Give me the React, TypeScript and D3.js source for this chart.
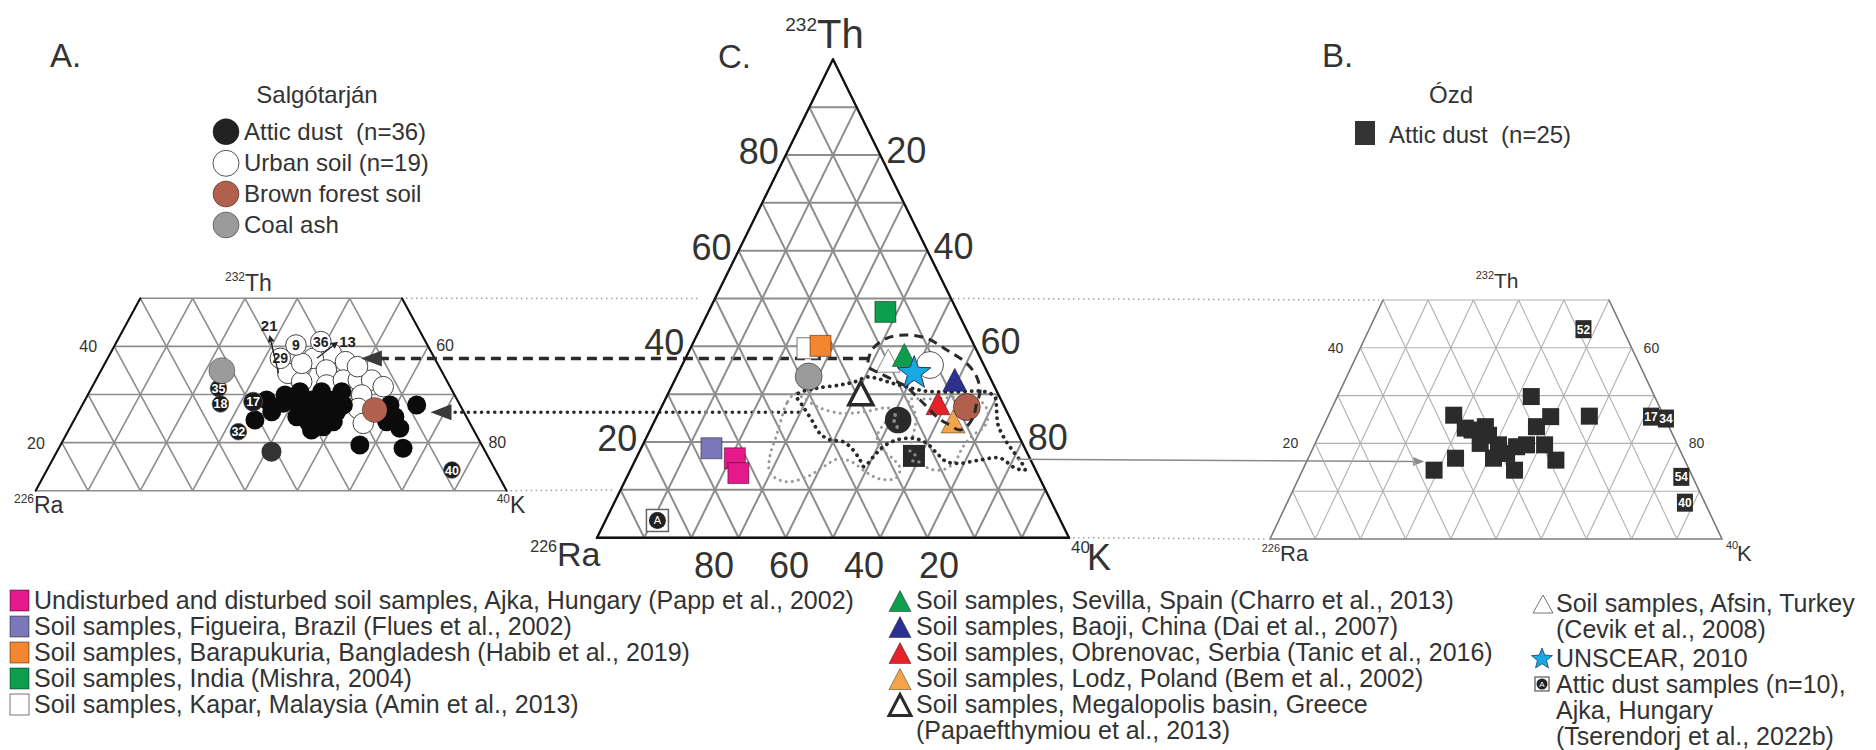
import React from "react";
import * as d3 from "d3";

// A composition is [Th %, K %]; Ra % = 100 − Th − K.
type Comp = [number, number];

// ---------- Panel A: Salgótarján (Th 10–50 % window) ----------
const salgoAtticDust: Comp[] = [
  [28.86, 34.7], [26.43, 36.9], [24.7, 34.55], [29.9, 37.7], [27.13, 41.9], [28.86, 43.3],
  [28.16, 46.2], [26.1, 46.25], [28.86, 47.5], [27.82, 49.9], [24.35, 44.9], [22.62, 46.4],
  [24.35, 49.7], [27.82, 58.8], [25.39, 60.95], [22.97, 63.1], [24.35, 59.9], [27.82, 63.9],
  [19.5, 57.2], [18.81, 65.8], [30.59, 40.2], [30.59, 44.35], [30.59, 48.2], [25.39, 42.2],
  [26.43, 49.3], [27.13, 44.8], [28.16, 38.2], [26.78, 57.4], [23.3, 48.3], [28.86, 39.2],
];
const salgoAtticDustTagged: Comp[] = [[31.28, 24.3], [28.03, 26.3], [28.51, 32.3], [22.27, 32.6], [14.3, 77.4]];
const salgoAtticDustTags = ["35", "18", "17", "32", "40"];
const salgoAtticDustCentre: Comp = [18.12, 41.0];
const salgoUrbanSoil: Comp[] = [
  [38.56, 42.2], [36.83, 45.8], [37.52, 39.3], [35.1, 43.0], [34.4, 36.0], [32.67, 39.5],
  [31.98, 44.6], [33.0, 47.3], [33.0, 50.15], [33.0, 52.7], [31.63, 55.6], [29.9, 52.35],
  [27.1, 53.1], [24.0, 55.6], [36.48, 37.6], [35.79, 48.6],
];
const salgoUrbanSoilTagged: Comp[] = [[37.52, 33.0], [40.29, 34.6], [40.99, 39.0]];
const salgoUrbanSoilTags = ["29", "9", "36"];
const brownForestSoil: Comp = [26.78, 56.4];
const coalAsh: Comp = [34.96, 23.1];
const pointerTags = ["21", "13"];
const pointerTagAt: Comp[] = [[44.45, 27.4], [41.2, 44.0]];
const pointerFrom: Comp[] = [[34.4, 34.2], [37.52, 40.0]];
const pointerTo: Comp[] = [[42.37, 28.5], [40.99, 42.3]];

// ---------- Panel B: Ózd (Th 0–50 % window) ----------
const ozdAtticDust: Comp[] = [
  [29.8, 42.9], [25.9, 27.7], [25.7, 57.8], [22.8, 33.3], [23.5, 35.9], [25.6, 49.3],
  [23.5, 47.2], [20.0, 36.5], [19.7, 40.7], [19.3, 44.9], [19.7, 50.9], [16.9, 41.0],
  [16.9, 32.6], [16.5, 55.0], [14.4, 46.9], [14.4, 29.1], [17.9, 43.4], [21.7, 37.5],
  [23.2, 31.6], [19.7, 46.9],
];
const ozdAtticDustTagged: Comp[] = [[43.9, 47.4], [25.6, 71.5], [25.2, 75.0], [13.0, 84.5], [7.6, 88.0]];
const ozdAtticDustTags = ["52", "17", "34", "54", "40"];

// ---------- Panel C: comparison with published soils ----------
const ajkaSoil: Comp[] = [[16.6, 20.9], [13.5, 23.2]];
const figueiraSoil: Comp = [18.7, 14.9];
const barapukuriaSoil: Comp = [40.1, 27.3];
const indiaSoil: Comp = [47.2, 37.5];
const kaparSoil: Comp = [39.6, 24.8];
const sevillaSoil: Comp = [38.2, 46.0];
const baojiSoil: Comp = [33.0, 59.3];
const obrenovacSoil: Comp = [28.1, 58.2];
const lodzSoil: Comp = [24.3, 63.3];
const megalopolisSoil: Comp = [30.2, 40.8];
const afsinSoil: Comp = [37.0, 43.2];
const unscear: Comp = [34.4, 50.0];
const ajkaAtticDust: Comp = [3.6, 11.0];
const salgoUrbanMean: Comp = [36.1, 52.5];
const salgoDustMean: Comp = [24.6, 51.5];
const ozdDustMean: Comp = [17.1, 58.6];
const brownForestSoilC: Comp = [27.3, 64.7];
const coalAshC: Comp = [33.7, 28.0];

// Salgótarján urban soil field (dashed outline)
const urbanSoilField: Comp[] = [
  [37.15, 38.9], [39.59, 38.7], [41.68, 40.5], [42.37, 44.4], [41.68, 49.0], [39.24, 54.5],
  [36.45, 60.1], [33.65, 63.6], [30.52, 65.9], [28.09, 66.4], [25.29, 67.1], [23.2, 66.7],
  [22.51, 65.7], [23.91, 62.1], [25.29, 59.3], [27.38, 56.2], [29.47, 53.0], [31.56, 49.8],
  [32.61, 47.2], [34.36, 42.8], [35.74, 39.6],
];
// Salgótarján attic dust field (black dotted outline)
const atticDustField: Comp[] = [
  [29.83, 27.4], [31.23, 30.9], [31.92, 35.5], [32.61, 38.4], [33.59, 40.6], [32.13, 47.1],
  [30.66, 54.2], [30.46, 60.6], [30.52, 66.9], [29.41, 69.6], [26.69, 71.3], [23.56, 73.2],
  [20.42, 76.3], [17.7, 79.6], [15.61, 82.2], [14.15, 83.6], [14.57, 81.3], [16.66, 77.0],
  [16.24, 73.0], [15.55, 69.1], [15.89, 66.1], [17.64, 63.2], [19.73, 60.0], [20.78, 56.6],
  [20.42, 53.3], [19.02, 51.1], [16.93, 50.1], [14.84, 49.1], [16.24, 47.6], [18.33, 45.1],
  [20.07, 42.1], [20.42, 39.2], [21.82, 36.3], [24.6, 33.2], [27.38, 30.0],
];
// Ózd attic dust fields (grey dotted outlines)
const ozdFieldWest: Comp[] = [
  [30.18, 26.97], [28.09, 26.15], [24.6, 26.7], [21.05, 27.4], [17.08, 28.1], [13.52, 29.9],
  [11.71, 34.1], [12.69, 38.1], [14.78, 40.5], [16.45, 42.8], [15.82, 46.1], [13.73, 50.1],
  [12.27, 53.8], [12.48, 57.1], [14.57, 56.9], [16.66, 54.2], [18.69, 50.7], [21.05, 48.8],
  [23.91, 48.95], [26.0, 50.4], [27.11, 48.2], [26.34, 43.55], [26.0, 38.7], [27.38, 32.96],
  [29.47, 28.6],
];
const ozdFieldEast: Comp[] = [
  [28.78, 51.5], [28.99, 57.1], [29.41, 62.2], [28.57, 66.9], [26.27, 69.7], [23.35, 70.5],
  [21.26, 68.8], [18.75, 68.0], [15.82, 67.9], [14.15, 66.0], [14.57, 62.8], [16.87, 59.6],
  [19.38, 57.0], [22.1, 56.1], [25.02, 55.1], [27.53, 53.0],
];

// Links between the panels (end points in each panel's own composition space)
const urbanLinkFrom: Comp = [37.5, 48.4];
const dustLinkFrom: Comp = [26.3, 67.3];
const dustLinkTo: Comp = [26.0, 30.3];
const ozdLinkFrom: Comp = [16.4, 80.8];
const ozdLinkTo: Comp = [16.2, 26.0];

// Axis tick values
const cLeftTicks = [80, 60, 40, 20];
const cRightTicks = [20, 40, 60, 80];
const cBottomTicks = [80, 60, 40, 20];
const sideLeftTicks = [40, 20];
const sideRightTicks = [60, 80];

// Legend texts
const salgoLegend = ["Attic dust  (n=36)", "Urban soil (n=19)", "Brown forest soil", "Coal ash"];
const squareLegend = [
  "Undisturbed and disturbed soil samples, Ajka, Hungary (Papp et al., 2002)",
  "Soil samples, Figueira, Brazil (Flues et al., 2002)",
  "Soil samples, Barapukuria, Bangladesh (Habib et al., 2019)",
  "Soil samples, India (Mishra, 2004)",
  "Soil samples, Kapar, Malaysia (Amin et al., 2013)",
];
const triangleLegend = [
  "Soil samples, Sevilla, Spain (Charro et al., 2013)",
  "Soil samples, Baoji, China (Dai et al., 2007)",
  "Soil samples, Obrenovac, Serbia (Tanic et al., 2016)",
  "Soil samples, Lodz, Poland (Bem et al., 2002)",
  "Soil samples, Megalopolis basin, Greece",
  "(Papaefthymiou et al., 2013)",
];
const otherLegend = [
  "Soil samples, Afsin, Turkey",
  "(Cevik et al., 2008)",
  "UNSCEAR, 2010",
  "Attic dust samples (n=10),",
  "Ajka, Hungary",
  "(Tserendorj et al., 2022b)",
];

const FONT = "'Liberation Sans', Arial, Helvetica, sans-serif";
const INK = "#333";
const PINK = "#e6198b", PURPLE = "#7a78b8", ORANGE = "#f4862f", GREEN = "#0c9d4d";
const NAVY = "#2c3190", RED = "#e52229", LIGHT_ORANGE = "#f6a44c", BROWN = "#b0604d";
const ASH = "#9b9b9b", SKY = "#19a9e2";

type Frame = { p: (c: Comp) => [number, number] };

function makeFrame(xRa: number, xK: number, yBase: number, yTop: number, thTop: number): Frame {
  const sx = d3.scaleLinear().domain([0, 100]).range([xRa, xK]);
  const sy = d3.scaleLinear().domain([0, thTop]).range([yBase, yTop]);
  return { p: (c: Comp) => [sx(c[1] + c[0] / 2), sy(c[0])] };
}

const frameA = makeFrame(9.5, 532.8, 538.8, 298.3, 50);
const frameC = makeFrame(597, 1069, 537.7, 59.3, 100);
const frameB = makeFrame(1270, 1722, 539, 300, 50);
// Ra tick labels under the base of panel C
const cBottomLabelX = d3.scaleLinear().domain([80, 20]).range([714, 939]);

function gridSegments(thMin: number, thMax: number): [Comp, Comp][] {
  const segs: [Comp, Comp][] = [];
  for (let t = thMin; t <= thMax; t += 10) segs.push([[t, 0], [t, 100 - t]]);
  for (let c = 0; c < 100 - thMin; c += 10) {
    const top = Math.min(thMax, 100 - c);
    segs.push([[thMin, c], [top, c]]);
    segs.push([[thMin, 100 - c - thMin], [top, 100 - c - top]]);
  }
  return segs;
}

function Grid({ f, thMin, thMax, stroke, sw }: { f: Frame; thMin: number; thMax: number; stroke: string; sw: number }) {
  return (
    <g stroke={stroke} strokeWidth={sw}>
      {gridSegments(thMin, thMax).map((s, i) => {
        const a = f.p(s[0]), b = f.p(s[1]);
        return <line key={i} x1={a[0]} y1={a[1]} x2={b[0]} y2={b[1]} />;
      })}
    </g>
  );
}

function Seg({ f, a, b, stroke, sw }: { f: Frame; a: Comp; b: Comp; stroke: string; sw: number }) {
  const p = f.p(a), q = f.p(b);
  return <line x1={p[0]} y1={p[1]} x2={q[0]} y2={q[1]} stroke={stroke} strokeWidth={sw} strokeLinecap="round" />;
}

const triPath = (x: number, y: number, w: number, h: number) =>
  `M${x},${y - h / 2}L${x + w / 2},${y + h / 2}L${x - w / 2},${y + h / 2}Z`;

function starPath(x: number, y: number, R: number, r: number) {
  const pts = d3.range(10).map((i) => {
    const a = -Math.PI / 2 + (i * Math.PI) / 5;
    const rad = i % 2 ? r : R;
    return [x + rad * Math.cos(a), y + rad * Math.sin(a)];
  });
  return "M" + pts.map((p) => p.join(",")).join("L") + "Z";
}

function Sup({ x, y, sup, main, big, small }: { x: number; y: number; sup: string; main: string; big: number; small: number }) {
  // mass number as a superscript in front of the element symbol, split at x
  return (
    <g fill={INK} fontFamily={FONT}>
      <text x={x} y={y - big * 0.42} fontSize={small} textAnchor="end">{sup}</text>
      <text x={x} y={y} fontSize={big}>{main}</text>
    </g>
  );
}

const closedPath = (f: Frame, pts: Comp[]) =>
  d3.line<Comp>().x((d) => f.p(d)[0]).y((d) => f.p(d)[1]).curve(d3.curveCatmullRomClosed.alpha(0.5))(pts) || "";

export default function App() {
  const A = frameA, B = frameB, C = frameC;
  const sq = (c: Comp, s: number, fill: string, stroke = "rgba(0,0,0,0.45)") => {
    const [x, y] = C.p(c);
    return <rect x={x - s / 2} y={y - s / 2} width={s} height={s} fill={fill} stroke={stroke} strokeWidth={1} />;
  };
  const tri = (c: Comp, fill: string, stroke = "rgba(0,0,0,0.4)", sw = 1) => {
    const [x, y] = C.p(c);
    return <path d={triPath(x, y, 24, 23)} fill={fill} stroke={stroke} strokeWidth={sw} />;
  };
  const circ = (c: Comp, r: number, fill: string, stroke = "rgba(0,0,0,0.45)") => {
    const [x, y] = C.p(c);
    return <circle cx={x} cy={y} r={r} fill={fill} stroke={stroke} strokeWidth={1} />;
  };

  const urbTip = A.p(urbanLinkFrom);
  const urbEnd = C.p(urbanSoilField[0]);
  const dustTip = A.p(dustLinkFrom);
  const dustEnd = C.p(dustLinkTo);
  const ozdStart = C.p(ozdLinkFrom);
  const ozdEnd = B.p(ozdLinkTo);

  const aTopRight = A.p([50, 50]), cLeft50 = C.p([50, 0]);
  const aBaseRight = A.p([10, 90]), cLeft10 = C.p([10, 0]);
  const cRight50 = C.p([50, 50]), bTopLeft = B.p([50, 0]);
  const cK = C.p([0, 100]), bRa = B.p([0, 0]);

  const legendRowsLeft = [609, 635, 661, 687, 713];
  const legendRowsMid = [609, 635, 661, 687, 713, 739];
  const legendRowsRight = [612, 638, 667, 693, 719, 745];
  const salgoRows = [131.7, 163.3, 194, 225];

  const [dmx, dmy] = C.p(salgoDustMean);
  const [omx, omy] = C.p(ozdDustMean);
  const [amx, amy] = C.p(ajkaAtticDust);
  const [smx, smy] = C.p(unscear);

  return (
    <svg width={1876} height={750} style={{ position: "absolute", left: 0, top: 0, background: "#fff" }} fontFamily={FONT}>
      <rect width={1876} height={750} fill="#fff" />

      {/* panel titles */}
      <g fill={INK} fontSize={33}>
        <text x={50} y={67}>A.</text>
        <text x={718} y={68}>C.</text>
        <text x={1322} y={67}>B.</text>
      </g>

      {/* links between panels */}
      <g stroke="#a0a0a0" strokeWidth={1.5} strokeDasharray="1.5 3.5" fill="none">
        <line x1={aTopRight[0] + 4} y1={aTopRight[1]} x2={cLeft50[0] - 14} y2={cLeft50[1]} />
        <line x1={aBaseRight[0] + 4} y1={aBaseRight[1]} x2={cLeft10[0] - 6} y2={cLeft10[1]} />
        <line x1={cRight50[0] + 2} y1={cRight50[1]} x2={bTopLeft[0] - 4} y2={bTopLeft[1]} />
        <line x1={cK[0] + 4} y1={cK[1]} x2={bRa[0] - 4} y2={bRa[1]} />
      </g>

      {/* ---------- Panel A ---------- */}
      <text x={317} y={103} textAnchor="middle" fontSize={24} fill={INK}>Salgótarján</text>
      {salgoLegend.map((t, i) => (
        <g key={t}>
          <circle cx={226} cy={salgoRows[i]} r={13}
            fill={i === 0 ? "#222" : i === 1 ? "#fff" : i === 2 ? BROWN : ASH}
            stroke={i === 1 ? "#555" : "rgba(0,0,0,0.4)"} strokeWidth={1} />
          <text x={244} y={salgoRows[i] + 8} fontSize={24} fill={INK} style={{ whiteSpace: "pre" }}>{t}</text>
        </g>
      ))}
      <Grid f={A} thMin={10} thMax={50} stroke="#8d8d8d" sw={1.6} />
      <Seg f={A} a={[10, 0]} b={[50, 0]} stroke="#111" sw={2} />
      <Seg f={A} a={[10, 90]} b={[50, 50]} stroke="#111" sw={2} />
      <Sup x={245} y={291} sup="232" main="Th" big={23} small={12} />
      <Sup x={34} y={513} sup="226" main="Ra" big={23} small={12} />
      <Sup x={510} y={513} sup="40" main="K" big={23} small={12} />
      <g fontSize={16} fill={INK}>
        {sideLeftTicks.map((t) => { const [x, y] = A.p([t, 0]); return <text key={t} x={x - 17} y={y + 6} textAnchor="end">{t}</text>; })}
        {sideRightTicks.map((k) => { const [x, y] = A.p([100 - k, k]); return <text key={k} x={x + 8} y={y + 5}>{k}</text>; })}
      </g>
      {salgoUrbanSoil.map((c, i) => { const [x, y] = A.p(c); return <circle key={i} cx={x} cy={y} r={10.3} fill="#fff" stroke="#444" strokeWidth={1} />; })}
      {salgoAtticDust.map((c, i) => { const [x, y] = A.p(c); return <circle key={i} cx={x} cy={y} r={9.5} fill="#0b0b0b" />; })}
      {(() => { const [x, y] = A.p(salgoAtticDustCentre); return <circle cx={x} cy={y} r={10} fill="#333" />; })()}
      {salgoUrbanSoilTagged.map((c, i) => {
        const [x, y] = A.p(c);
        return (
          <g key={i}>
            <circle cx={x} cy={y} r={10.3} fill="#fff" stroke="#444" strokeWidth={1} />
            <text x={x} y={y + 5} textAnchor="middle" fontSize={14} fontWeight="bold" fill="#222">{salgoUrbanSoilTags[i]}</text>
          </g>
        );
      })}
      {salgoAtticDustTagged.map((c, i) => {
        const [x, y] = A.p(c);
        const r = salgoAtticDustTags[i] === "17" ? 9.5 : 8.3;
        return (
          <g key={i}>
            <circle cx={x} cy={y} r={r} fill="#1a1a1a" stroke="#555" strokeWidth={0.8} />
            <text x={x} y={y + 4.5} textAnchor="middle" fontSize={12.5} fontWeight="bold" fill="#fff">{salgoAtticDustTags[i]}</text>
          </g>
        );
      })}
      {(() => { const [x, y] = A.p(brownForestSoil); return <circle cx={x} cy={y} r={12.5} fill={BROWN} stroke="rgba(0,0,0,0.35)" />; })()}
      {(() => { const [x, y] = A.p(coalAsh); return <circle cx={x} cy={y} r={13} fill={ASH} stroke="rgba(0,0,0,0.35)" />; })()}
      {pointerTags.map((t, i) => {
        const [fx, fy] = A.p(pointerFrom[i]);
        const [tx, ty] = A.p(pointerTo[i]);
        const [lx, ly] = A.p(pointerTagAt[i]);
        const ang = Math.atan2(ty - fy, tx - fx);
        const hl = 7, hw = 3.5;
        const bx = tx - hl * Math.cos(ang), by = ty - hl * Math.sin(ang);
        const head = `M${tx},${ty}L${bx + hw * Math.sin(ang)},${by - hw * Math.cos(ang)}L${bx - hw * Math.sin(ang)},${by + hw * Math.cos(ang)}Z`;
        return (
          <g key={t}>
            <line x1={fx} y1={fy} x2={bx} y2={by} stroke="#222" strokeWidth={1.3} />
            <path d={head} fill="#222" />
            <text x={lx} y={ly + 6} textAnchor="middle" fontSize={15} fontWeight="bold" fill="#222">{t}</text>
          </g>
        );
      })}

      {/* arrows from panel A into C */}
      <line x1={urbTip[0] + 18} y1={urbTip[1]} x2={urbEnd[0]} y2={urbTip[1]} stroke="#2a2a2a" strokeWidth={3.5} strokeDasharray="10 6" />
      <path d={`M${urbTip[0]},${urbTip[1]}L${urbTip[0] + 21},${urbTip[1] - 8}L${urbTip[0] + 21},${urbTip[1] + 8}Z`} fill="#3a3a3a" />
      <line x1={dustTip[0] + 18} y1={dustTip[1]} x2={dustEnd[0]} y2={dustTip[1]} stroke="#2a2a2a" strokeWidth={3.5} strokeDasharray="0.1 6.5" strokeLinecap="round" />
      <path d={`M${dustTip[0]},${dustTip[1]}L${dustTip[0] + 21},${dustTip[1] - 8}L${dustTip[0] + 21},${dustTip[1] + 8}Z`} fill="#3a3a3a" />

      {/* ---------- Panel C ---------- */}
      <Grid f={C} thMin={0} thMax={100} stroke="#8d8d8d" sw={2} />
      <Seg f={C} a={[0, 0]} b={[100, 0]} stroke="#111" sw={2.2} />
      <Seg f={C} a={[0, 100]} b={[100, 0]} stroke="#111" sw={2.2} />
      <Seg f={C} a={[0, 0]} b={[0, 100]} stroke="#111" sw={2.6} />
      <Sup x={817} y={48} sup="232" main="Th" big={40} small={19} />
      <Sup x={557} y={566} sup="226" main="Ra" big={34} small={16} />
      <g fill={INK} fontFamily={FONT}>
        <text x={1071} y={553} fontSize={17}>40</text>
        <text x={1087} y={570} fontSize={36}>K</text>
      </g>
      <g fontSize={36} fill={INK}>
        {cLeftTicks.map((t) => { const [x, y] = C.p([t, 0]); return <text key={t} x={x - 7} y={y + 9} textAnchor="end">{t}</text>; })}
        {cRightTicks.map((k) => { const [x, y] = C.p([100 - k, k]); return <text key={k} x={x + 6} y={y + 8}>{k}</text>; })}
        {cBottomTicks.map((r) => { const y = C.p([0, 100 - r])[1]; return <text key={r} x={cBottomLabelX(r)} y={y + 40} textAnchor="middle">{r}</text>; })}
      </g>

      {/* composition fields */}
      <g fill="none" strokeLinecap="round">
        <path d={closedPath(C, ozdFieldWest)} stroke="#9a9a9a" strokeWidth={3} strokeDasharray="0.1 6" />
        <path d={closedPath(C, ozdFieldEast)} stroke="#9a9a9a" strokeWidth={3} strokeDasharray="0.1 6" />
        <path d={closedPath(C, atticDustField)} stroke="#2a2a2a" strokeWidth={3.8} strokeDasharray="0.1 6.5" />
      </g>

      {/* published soil data */}
      {ajkaSoil.map((c, i) => <g key={i}>{sq(c, 21, PINK)}</g>)}
      {sq(figueiraSoil, 21, PURPLE)}
      {sq(kaparSoil, 21, "#fff", "#777")}
      {sq(barapukuriaSoil, 21, ORANGE)}
      {sq(indiaSoil, 21, GREEN)}
      {circ(coalAshC, 13.5, ASH)}
      {tri(megalopolisSoil, "#fff", "#2a2a2a", 3.5)}
      {tri(afsinSoil, "#fff", "#888", 1)}
      {tri(sevillaSoil, GREEN)}
      {circ(salgoUrbanMean, 13.5, "#fff", "#555")}
      <path d={starPath(smx, smy, 17.5, 7.2)} fill={SKY} stroke="#1d3b66" strokeWidth={1} />
      {tri(baojiSoil, NAVY)}
      {tri(obrenovacSoil, RED)}
      {circ(brownForestSoilC, 13.5, BROWN)}
      {tri(lodzSoil, LIGHT_ORANGE)}
      <circle cx={dmx} cy={dmy} r={13.3} fill="#2a2a2a" />
      <g fill="#8a8a8a">
        <circle cx={dmx - 3} cy={dmy - 5} r={1.9} />
        <circle cx={dmx - 4} cy={dmy + 1} r={1.9} />
        <circle cx={dmx - 1} cy={dmy + 7} r={1.9} />
      </g>
      <rect x={omx - 11} y={omy - 11} width={22} height={22} fill="#2a2a2a" />
      <g fill="#8a8a8a">
        <circle cx={omx - 4} cy={omy - 5} r={1.7} />
        <circle cx={omx + 1} cy={omy - 1} r={1.7} />
        <circle cx={omx - 1} cy={omy + 5} r={1.7} />
        <circle cx={omx + 5} cy={omy + 6} r={1.7} />
      </g>
      <rect x={amx - 11} y={amy - 11} width={22} height={22} fill="#fff" stroke="#666" strokeWidth={1.5} />
      <circle cx={amx} cy={amy} r={8.5} fill="#222" />
      <text x={amx} y={amy + 4} textAnchor="middle" fontSize={11} fill="#fff">A</text>

      <path d={closedPath(C, urbanSoilField)} fill="none" stroke="#2a2a2a" strokeWidth={3} strokeDasharray="9 6" />

      {/* arrow from panel C to panel B */}
      <line x1={ozdStart[0]} y1={ozdStart[1]} x2={ozdEnd[0] - 9} y2={ozdEnd[1]} stroke="#8a8a8a" strokeWidth={1.5} />
      <path d={`M${ozdEnd[0]},${ozdEnd[1]}L${ozdEnd[0] - 11},${ozdEnd[1] - 4.5}L${ozdEnd[0] - 11},${ozdEnd[1] + 4.5}Z`} fill="#8a8a8a" />

      {/* ---------- Panel B ---------- */}
      <text x={1451} y={103} textAnchor="middle" fontSize={24} fill={INK}>Ózd</text>
      <rect x={1355} y={121} width={20} height={24} fill="#333" />
      <text x={1389} y={143} fontSize={24} fill={INK} style={{ whiteSpace: "pre" }}>Attic dust  (n=25)</text>
      <Grid f={B} thMin={0} thMax={50} stroke="#b0b0b0" sw={1.1} />
      <Seg f={B} a={[0, 0]} b={[50, 0]} stroke="#7a7a7a" sw={1.5} />
      <Seg f={B} a={[0, 100]} b={[50, 50]} stroke="#7a7a7a" sw={1.5} />
      <Seg f={B} a={[0, 0]} b={[0, 100]} stroke="#8a8a8a" sw={1.3} />
      <Sup x={1494} y={288} sup="232" main="Th" big={21} small={11} />
      <Sup x={1280} y={561} sup="226" main="Ra" big={22} small={11} />
      <g fill={INK}>
        <text x={1726} y={549} fontSize={11}>40</text>
        <text x={1737} y={561} fontSize={22}>K</text>
      </g>
      <g fontSize={14} fill={INK}>
        {sideLeftTicks.map((t) => { const [x, y] = B.p([t, 0]); return <text key={t} x={x - 17} y={y + 5} textAnchor="end">{t}</text>; })}
        {sideRightTicks.map((k) => { const [x, y] = B.p([100 - k, k]); return <text key={k} x={x + 12} y={y + 5}>{k}</text>; })}
      </g>
      {ozdAtticDust.map((c, i) => { const [x, y] = B.p(c); return <rect key={i} x={x - 8.5} y={y - 8.5} width={17} height={17} fill="#2b2b2b" />; })}
      {ozdAtticDustTagged.map((c, i) => {
        const [x, y] = B.p(c);
        return (
          <g key={i}>
            <rect x={x - 8} y={y - 9} width={16} height={18} fill="#2b2b2b" />
            <text x={x} y={y + 4.5} textAnchor="middle" fontSize={12} fontWeight="bold" fill="#fff">{ozdAtticDustTags[i]}</text>
          </g>
        );
      })}

      {/* ---------- Legends ---------- */}
      <g fontSize={25} fill={INK}>
        {squareLegend.map((t, i) => (
          <g key={t}>
            <rect x={10} y={legendRowsLeft[i] - 19} width={19} height={21}
              fill={[PINK, PURPLE, ORANGE, GREEN, "#fff"][i]} stroke={i === 4 ? "#777" : "rgba(0,0,0,0.45)"} strokeWidth={1} />
            <text x={34} y={legendRowsLeft[i]}>{t}</text>
          </g>
        ))}
        {triangleLegend.map((t, i) => (
          <g key={t}>
            {i < 5 && (
              <path d={triPath(900, legendRowsMid[i] - 8, 22, 21)}
                fill={[GREEN, NAVY, RED, LIGHT_ORANGE, "#fff"][i]}
                stroke={i === 4 ? "#2a2a2a" : "rgba(0,0,0,0.4)"} strokeWidth={i === 4 ? 3 : 1} />
            )}
            <text x={916} y={legendRowsMid[i]}>{t}</text>
          </g>
        ))}
        {otherLegend.map((t, i) => (
          <text key={t} x={1556} y={legendRowsRight[i]}>{t}</text>
        ))}
        <path d={triPath(1543, legendRowsRight[0] - 8, 20, 18)} fill="#fff" stroke="#777" strokeWidth={1} />
        <path d={starPath(1542, legendRowsRight[2] - 8, 11, 4.8)} fill={SKY} stroke="#1d3b66" strokeWidth={0.8} />
        <rect x={1535} y={legendRowsRight[3] - 16} width={14} height={14} fill="#fff" stroke="#555" strokeWidth={1.2} />
        <circle cx={1542} cy={legendRowsRight[3] - 9} r={5.5} fill="#222" />
        <text x={1542} y={legendRowsRight[3] - 6} textAnchor="middle" fontSize={8} fill="#fff">A</text>
      </g>
    </svg>
  );
}
